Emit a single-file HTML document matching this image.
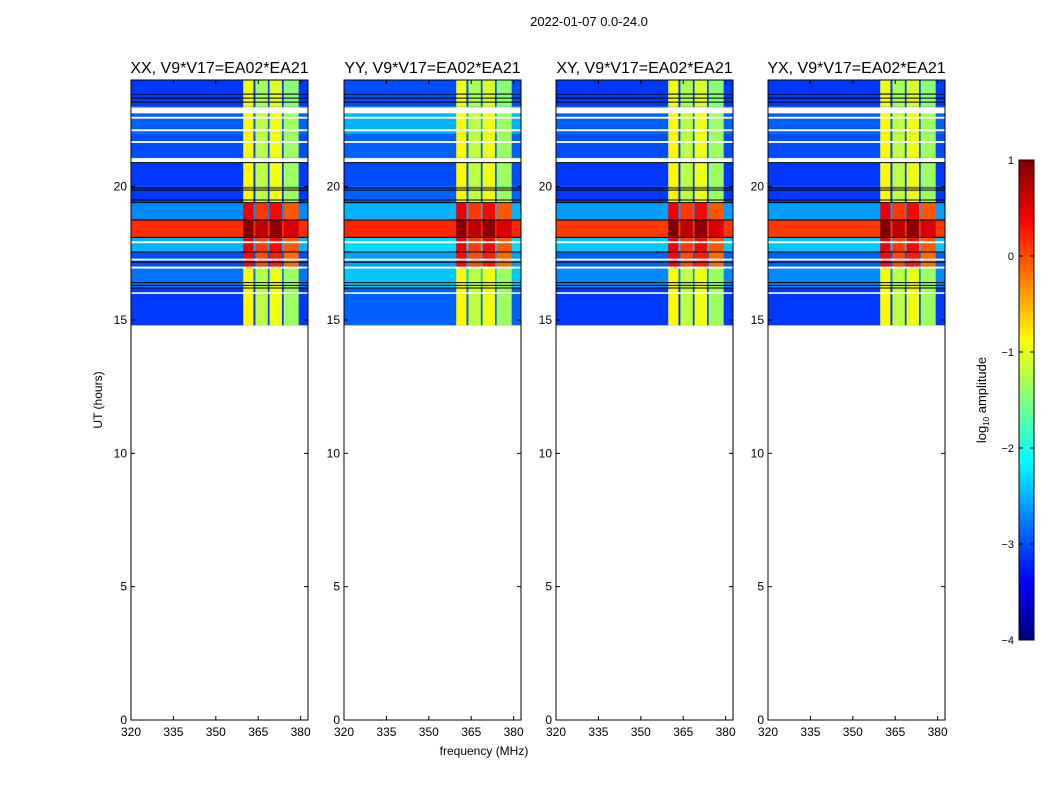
<!DOCTYPE html>
<html><head><meta charset="utf-8">
<style>
html,body{margin:0;padding:0;background:#fff;}
svg{display:block;font-family:"Liberation Sans",sans-serif;}
</style></head>
<body>
<svg id="chart" width="1050" height="800" viewBox="0 0 1050 800" xmlns="http://www.w3.org/2000/svg">
<text x="589" y="26" font-size="13" text-anchor="middle">2022-01-07 0.0-24.0</text>
<g id="panels"></g>
<g id="cbar"></g>
</svg>
<script>
// ---- data ----
const panelTitles = ["XX, V9*V17=EA02*EA21","YY, V9*V17=EA02*EA21","XY, V9*V17=EA02*EA21","YX, V9*V17=EA02*EA21"];
const xTicks = [320,335,350,365,380];
const yTicks = [0,5,10,15,20];
const cbTicks = [-4,-3,-2,-1,0,1];
// time segments (hours)
const segStart = [14.8,16.2,17.0,17.55,18.1,18.75,19.4,20.0,21.1,22.0,23.0,23.5];
const segEnd   = [16.2,17.0,17.55,18.1,18.75,19.4,20.0,21.1,22.0,23.0,23.5,24.0];
// off-band background level per segment, per panel (log10 amplitude)
const bgXX = [-3.1,-2.8,-3.0,-2.5,0.15,-2.7,-3.1,-3.1,-3.0,-2.9,-3.1,-3.1];
const bgYY = [-2.9,-2.4,-2.6,-2.3,0.2,-2.5,-2.9,-3.0,-2.9,-2.5,-3.0,-3.0];
const bgXY = [-3.1,-2.7,-2.9,-2.4,0.1,-2.6,-3.1,-3.1,-3.0,-2.9,-3.1,-3.1];
const bgYX = [-3.1,-2.7,-2.9,-2.4,0.1,-2.6,-3.1,-3.1,-3.0,-2.9,-3.1,-3.1];
// in-band level per segment
const bandLvl = [-1.0,-1.0,0.2,0.3,0.9,0.3,-1.0,-1.0,-1.0,-1.0,-1.1,-1.1];
// band sub-channel edges (MHz) and offsets
const bandLo  = [359.7,364.0,369.0,374.0];
const bandHi  = [363.3,368.4,373.4,379.3];
const bandOff = [0.15,-0.2,0.05,-0.35];
// flagged rows
const gapStart = [22.75,20.9,22.55,22.08,21.64,17.88,17.23,16.93,15.98];
const gapEnd   = [22.97,21.07,22.62,22.15,21.71,17.95,17.3,17.0,16.04];
const blackHr  = [23.47,23.32,23.17,20.9,19.95,19.87,19.5,19.4,18.75,18.1,17.55,17.17,16.4,16.3,16.2];
// ---- rendering ----
const NS="http://www.w3.org/2000/svg";
const panelX=[131,344,556,768], PW=177, PT=80, PB=720;
const fMin=320, fMax=382.6, hMax=24;
function jet(v){const t=Math.max(0,Math.min(1,(v+4)/5));
 const c=x=>Math.round(255*Math.max(0,Math.min(1,1.5-Math.abs(x))));
 return `rgb(${c(4*t-3)},${c(4*t-2)},${c(4*t-1)})`;}
function mk(tag,attrs,parent){const e=document.createElementNS(NS,tag);for(const k in attrs)e.setAttribute(k,attrs[k]);parent.appendChild(e);return e;}
const panels=document.getElementById('panels');
const bgs=[bgXX,bgYY,bgXY,bgYX];
panelTitles.forEach((title,p)=>{
 const x0=panelX[p];
 const xs=f=>x0+(f-fMin)/(fMax-fMin)*PW;
 const ys=h=>PB-h/hMax*(PB-PT);
 const g=mk('g',{},panels);
 
 
 for(let s=0;s<segStart.length;s++){
  const y1=ys(segEnd[s]), y2=ys(segStart[s]);
  const r=mk('rect',{x:x0,y:y1,width:PW,height:y2-y1,fill:jet(bgs[p][s])},g);
  
  
  for(let b=0;b<bandLo.length;b++){
   const rb=mk('rect',{x:xs(bandLo[b]),y:y1,width:xs(bandHi[b])-xs(bandLo[b]),height:y2-y1,fill:jet(Math.min(1,bandLvl[s]+bandOff[b]))},g);
   
   
  }
 }
 for(let i=0;i<gapStart.length;i++){
  const r=mk('rect',{x:x0,y:ys(gapEnd[i]),width:PW,height:ys(gapStart[i])-ys(gapEnd[i]),fill:'#fff'},g);
  
  
 }
 for(let i=0;i<blackHr.length;i++){
  const l=mk('line',{x1:x0,x2:x0+PW,y1:ys(blackHr[i]),y2:ys(blackHr[i]),stroke:'#000','stroke-width':1},g);
  
  
 }
 const fr=mk('rect',{x:x0,y:PT,width:PW,height:PB-PT,fill:'none',stroke:'#000','stroke-width':1},g);
 
 
 const t=mk('text',{x:x0+PW/2,y:73,'font-size':16,'text-anchor':'middle'},g);t.textContent=title;
 
 
 xTicks.forEach(v=>{const x=xs(v);
  mk('line',{x1:x,x2:x,y1:PB,y2:PB-4,stroke:'#000'},g);mk('line',{x1:x,x2:x,y1:PT,y2:PT+4,stroke:'#000'},g);
  const tx=mk('text',{x:x,y:PB+16,'font-size':12,'text-anchor':'middle'},g);tx.textContent=v;
  
  });
 yTicks.forEach(v=>{const y=ys(v);
  mk('line',{x1:x0,x2:x0+4,y1:y,y2:y,stroke:'#000'},g);mk('line',{x1:x0+PW,x2:x0+PW-4,y1:y,y2:y,stroke:'#000'},g);
  const ty=mk('text',{x:x0-4,y:y+4,'font-size':12,'text-anchor':'end'},g);ty.textContent=v;
  
  });
});
const yl=mk('text',{x:0,y:0,'font-size':12,'text-anchor':'middle',transform:'translate(102,400) rotate(-90)'},panels);yl.textContent='UT (hours)';


const xl=mk('text',{x:484,y:755,'font-size':12,'text-anchor':'middle'},panels);xl.textContent='frequency (MHz)';


// colorbar
const cb=document.getElementById('cbar');
const CX=1019,CW=15,CT=160,CB=640;
const cys=v=>CB-(v+4)/5*(CB-CT);
for(let i=0;i<120;i++){const v1=-4+5*i/120,v2=-4+5*(i+1)/120;
 const r=mk('rect',{x:CX,y:cys(v2),width:CW,height:cys(v1)-cys(v2)+0.5,fill:jet((v1+v2)/2)},cb);
 
 }
const cf=mk('rect',{x:CX,y:CT,width:CW,height:CB-CT,fill:'none',stroke:'#000'},cb);


cbTicks.forEach(v=>{const y=cys(v);
 mk('line',{x1:CX,x2:CX+4,y1:y,y2:y,stroke:'#000'},cb);mk('line',{x1:CX+CW,x2:CX+CW-4,y1:y,y2:y,stroke:'#000'},cb);
 const t=mk('text',{x:CX-5,y:y+4,'font-size':11,'text-anchor':'end'},cb);t.textContent=(v<0?'\u2212'+(-v):v);
 
 });
const cl=mk('text',{x:0,y:0,'font-size':13,'text-anchor':'middle',transform:'translate(986,400) rotate(-90)'},cb);
cl.innerHTML='log<tspan font-size="8" dy="3">10</tspan><tspan dy="-3"> amplitude</tspan>';


</script>
</body></html>
